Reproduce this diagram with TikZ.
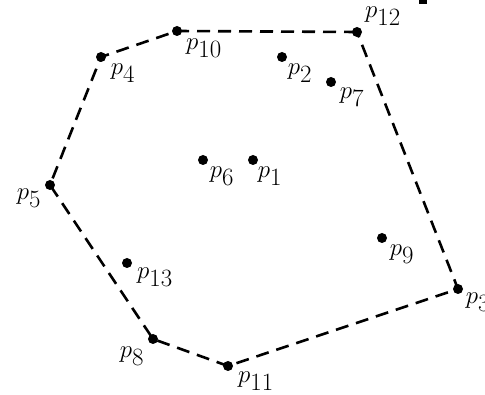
\documentclass[tikz,border=0pt]{standalone}
\begin{document}
\begin{tikzpicture}[x=1pt,y=-1pt,
  dot/.style={circle,fill=black,inner sep=0pt,minimum size=10pt},
  lab/.style={inner sep=0pt,font=\fontsize{37}{44}\selectfont},
  hull/.style={line width=2.6pt,dash pattern=on 13pt off 8pt}]
\useasboundingbox (0,0) rectangle (485,395);
\fill[white] (0,0) rectangle (485,395);
\fill[black] (419,0) rectangle (427,4);
\node[dot] (p12) at (357,32) {};
\node[dot] (p10) at (177,31) {};
\node[dot] (p4) at (101,57) {};
\node[dot] (p5) at (50,185) {};
\node[dot] (p8) at (153,339) {};
\node[dot] (p11) at (228,366) {};
\node[dot] (p3) at (458,289) {};
\node[dot] (p2) at (282,57) {};
\node[dot] (p7) at (331,82) {};
\node[dot] (p6) at (203,160) {};
\node[dot] (p1) at (253,160) {};
\node[dot] (p9) at (382,238) {};
\node[dot] (p13) at (127,263) {};
\draw[hull] (p12.center) -- (p10.center) -- (p4.center) -- (p5.center) -- (p8.center) -- (p11.center) -- (p3.center) -- cycle;
\node[lab] (l12) at (383,16) {$p_{12}$};
\node[lab] (l10) at (204,48) {$p_{10}$};
\node[lab] (l4) at (123,73) {$p_{4}$};
\node[lab] (l5) at (29,198) {$p_{5}$};
\node[lab] (l8) at (132,356) {$p_{8}$};
\node[lab] (l11) at (256,381) {$p_{11}$};
\node[lab] (l3) at (478,302) {$p_{3}$};
\node[lab] (l2) at (300,73) {$p_{2}$};
\node[lab] (l7) at (352,97) {$p_{7}$};
\node[lab] (l6) at (222,176) {$p_{6}$};
\node[lab] (l1) at (270,176) {$p_{1}$};
\node[lab] (l9) at (402,254) {$p_{9}$};
\node[lab] (l13) at (155,277) {$p_{13}$};
\end{tikzpicture}
\end{document}
